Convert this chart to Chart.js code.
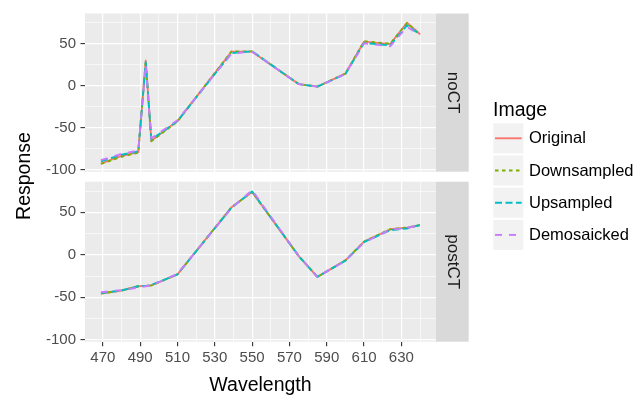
<!DOCTYPE html>
<html>
<head>
<meta charset="utf-8">
<script src="https://cdn.jsdelivr.net/npm/chart.js@4"></script>
<style>
  html, body { margin: 0; padding: 0; background: #ffffff; }
  #wrap { position: relative; width: 644px; height: 397px; }
  canvas { position: absolute; left: 0; top: 0; }
</style>
</head>
<body>
<div id="wrap">
  <canvas id="postCT" width="644" height="397"></canvas>
  <canvas id="noCT" width="644" height="200"></canvas>
</div>
<script>
// wavelengths shared by both panels
const wavelengths = [469, 480, 489, 493, 496, 510, 539, 550, 575, 585, 600, 610, 624, 633, 640];

const seriesNames = ['Original', 'Downsampled', 'Upsampled', 'Demosaicked'];

// noCT panel
const noCTOriginal    = [-92.5, -83.5, -79, 30, -65.5, -42, 40.6, 40.6, 2, -1, 14.5, 52.5, 49.6, 75, 61.3];
const noCTDownsampled = [-93, -84.5, -79.5, 29, -66, -42.5, 41, 41, 2, -1, 14.5, 53, 50, 74.5, 61];
const noCTUpsampled   = [-90, -82, -78, 28, -64, -42, 39, 41, 2, -1, 14, 51, 48, 72, 61];
const noCTDemosaicked = [-88.5, -81, -77, 25, -62.5, -41, 38.5, 40.5, 2, -1, 14, 50.5, 47, 70, 60.5];

// postCT panel
const postCTOriginal    = [-45.5, -42, -37, -36.5, -36, -23, 56, 74, -1.5, -26, -6.5, 15.5, 30, 32, 35];
const postCTDownsampled = [-45.5, -42, -37, -36.5, -36, -23, 56, 74, -1.5, -26, -6.5, 15.5, 30, 32, 35];
const postCTUpsampled   = [-45, -42, -37, -36.5, -35.5, -23, 55.5, 74.5, -1.5, -26, -7, 15, 29, 31, 35];
const postCTDemosaicked = [-44, -41.5, -38.5, -37, -36, -22.5, 55, 76, -1.5, -26, -7, 14.5, 29.5, 31.5, 35];

const xTickLabels = [470, 490, 510, 530, 550, 570, 590, 610, 630];
const yTickLabels = [-100, -50, 0, 50];

const colors = ['#F8766D', '#7CAE00', '#00BFC4', '#C77CFF'];
const dashes = [[], [3.5, 3.5], [7, 3.5], [7, 7]];
const FONT = '"Liberation Sans", Arial, Helvetica, sans-serif';

// grid positions: majors at the labelled ticks, minors half way between
const xGrid = [];
for (let v = 470; v <= 640; v += 10) xGrid.push(v);
const yGrid = [];
for (let v = -100; v <= 75; v += 25) yGrid.push(v);

function buildDatasets(series) {
    return series.map((vals, i) => ({
        label: seriesNames[i],
        data: wavelengths.map((w, j) => ({ x: w, y: vals[j] })),
        borderColor: colors[i],
        borderDash: dashes[i],
        borderWidth: 1.9,
        borderJoinStyle: 'round',
        pointRadius: 0,
        tension: 0,
        fill: false,
        order: 3 - i
    }));
}

function stripPlugin(text) {
    return {
        id: 'strip',
        beforeDraw(chart) {
            const a = chart.chartArea, ctx = chart.ctx;
            ctx.save();
            ctx.fillStyle = '#EBEBEB';
            ctx.fillRect(a.left, a.top, a.right - a.left, a.bottom - a.top);
            ctx.restore();
        },
        afterDraw(chart) {
            const a = chart.chartArea, ctx = chart.ctx;
            ctx.save();
            ctx.fillStyle = '#D9D9D9';
            ctx.fillRect(a.right, a.top, 32.7, a.bottom - a.top);
            ctx.translate(a.right + 16.5, (a.top + a.bottom) / 2);
            ctx.rotate(Math.PI / 2);
            ctx.fillStyle = '#1A1A1A';
            ctx.font = '17px ' + FONT;
            ctx.textAlign = 'center';
            ctx.textBaseline = 'middle';
            ctx.fillText(text, 0, 0);
            ctx.restore();
        }
    };
}

// legend and shared y title live on the bottom canvas
const decorPlugin = {
    id: 'decor',
    afterDraw(chart) {
        const ctx = chart.ctx;
        ctx.save();
        ctx.fillStyle = '#000000';
        ctx.font = '19.5px ' + FONT;
        ctx.textAlign = 'left';
        ctx.textBaseline = 'alphabetic';
        ctx.fillText('Image', 493, 115.7);

        seriesNames.forEach((name, i) => {
            const y0 = 123.3 + i * 32.2;
            ctx.fillStyle = '#F2F2F2';
            ctx.fillRect(493.3, y0, 30, 30);
            ctx.beginPath();
            ctx.strokeStyle = colors[i];
            ctx.lineWidth = 1.9;
            ctx.setLineDash(dashes[i]);
            ctx.moveTo(495, y0 + 15);
            ctx.lineTo(521.7, y0 + 15);
            ctx.stroke();
            ctx.setLineDash([]);
            ctx.fillStyle = '#000000';
            ctx.font = '16.5px ' + FONT;
            ctx.textBaseline = 'middle';
            ctx.fillText(name, 529, y0 + 15.5);
        });

        ctx.translate(24.5, 176);
        ctx.rotate(-Math.PI / 2);
        ctx.font = '19.5px ' + FONT;
        ctx.textAlign = 'center';
        ctx.textBaseline = 'middle';
        ctx.fillStyle = '#000000';
        ctx.fillText('Response', 0, 0);
        ctx.restore();
    }
};

function yScale() {
    return {
        type: 'linear',
        min: -102.2,
        max: 86,
        afterBuildTicks: s => { s.ticks = yGrid.map(v => ({ value: v })); },
        afterFit: s => { s.width = 85; },
        border: { display: false },
        grid: {
            color: '#FFFFFF',
            lineWidth: c => yTickLabels.includes(c.tick.value) ? 1.2 : 0.6,
            tickColor: c => yTickLabels.includes(c.tick.value) ? '#333333' : 'rgba(0,0,0,0)',
            tickWidth: 1.1,
            tickLength: 4.5,
            drawTicks: true
        },
        ticks: {
            color: '#4D4D4D',
            font: { family: FONT, size: 15 },
            padding: 4.5,
            autoSkip: false,
            callback: v => yTickLabels.includes(v) ? String(v) : ''
        }
    };
}

function xScale(bottom) {
    return {
        type: 'linear',
        min: 460.45,
        max: 648.55,
        afterBuildTicks: s => { s.ticks = xGrid.map(v => ({ value: v })); },
        // top panel: reserve the space below its area so the layout cannot shrink it
        afterFit: s => { s.height = bottom ? 55.3 : 28.3; },
        border: { display: false },
        grid: {
            color: '#FFFFFF',
            lineWidth: c => xTickLabels.includes(c.tick.value) ? 1.2 : 0.6,
            tickColor: c => xTickLabels.includes(c.tick.value) ? '#333333' : 'rgba(0,0,0,0)',
            tickWidth: 1.1,
            tickLength: 4.5,
            drawTicks: bottom
        },
        ticks: {
            display: bottom,
            color: '#4D4D4D',
            font: { family: FONT, size: 15 },
            padding: 3,
            autoSkip: false,
            maxRotation: 0,
            callback: v => xTickLabels.includes(v) ? String(v) : ''
        },
        title: {
            display: bottom,
            text: 'Wavelength',
            color: '#000000',
            font: { family: FONT, size: 19.5 },
            padding: { top: 0, bottom: 0 }
        }
    };
}

function makePanel(id, series, bottom) {
    const plugins = [stripPlugin(id)];
    if (bottom) plugins.push(decorPlugin);
    return new Chart(document.getElementById(id).getContext('2d'), {
        type: 'line',
        data: { datasets: buildDatasets(series) },
        options: {
            responsive: false,
            animation: false,
            devicePixelRatio: 1,
            layout: {
                padding: bottom
                    ? { left: 0, right: 208, top: 181.7, bottom: 0 }
                    : { left: 0, right: 208, top: 11, bottom: 0 }
            },
            plugins: {
                legend: { display: false },
                tooltip: { enabled: false }
            },
            scales: { x: xScale(bottom), y: yScale() }
        },
        plugins: plugins
    });
}

makePanel('postCT', [postCTOriginal, postCTDownsampled, postCTUpsampled, postCTDemosaicked], true);
makePanel('noCT', [noCTOriginal, noCTDownsampled, noCTUpsampled, noCTDemosaicked], false);
</script>
</body>
</html>
